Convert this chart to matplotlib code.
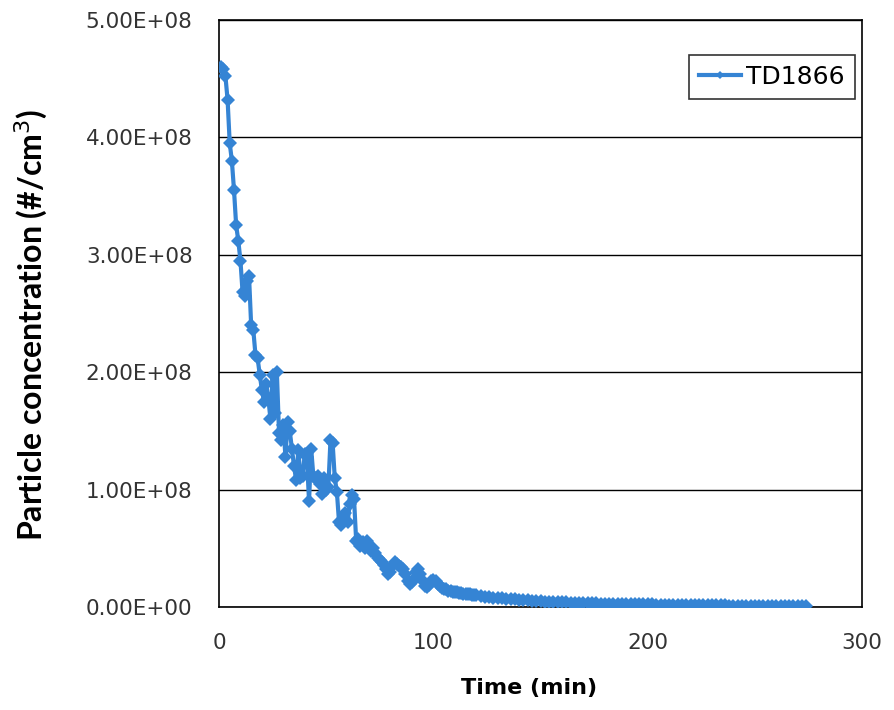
import numpy as np
import matplotlib.pyplot as plt
from matplotlib.ticker import FuncFormatter

# time (min) and particle concentration (x 1e6 #/cm3)
time_min = [
    1, 2, 3, 4, 5, 6, 7, 8, 9, 10, 11, 12, 13, 14, 15, 16, 17, 18, 19, 20,
    21, 22, 23, 24, 25, 26, 27, 28, 29, 30, 31, 32, 33, 34, 35, 36, 37, 38, 39, 40,
    41, 42, 43, 44, 45, 46, 47, 48, 49, 50, 51, 52, 53, 54, 55, 56, 57, 58, 59, 60,
    61, 62, 63, 64, 65, 66, 67, 68, 69, 70, 71, 72, 73, 74, 75, 76, 77, 78, 79, 80,
    81, 82, 83, 84, 85, 86, 87, 88, 89, 90, 91, 92, 93, 94, 95, 96, 97, 98, 99, 100,
    101, 102, 103, 104, 105, 106, 107, 108, 109, 110, 111, 112, 113, 114, 115, 116, 117, 118, 119, 120,
    122, 124, 126, 128, 130, 132, 134, 136, 138, 140, 142, 144, 146, 148, 150, 152, 154, 156, 158, 160,
    162, 164, 166, 168, 170, 172, 174, 176, 178, 180, 182, 184, 186, 188, 190, 192, 194, 196, 198, 200,
    202, 204, 206, 208, 210, 212, 214, 216, 218, 220, 222, 224, 226, 228, 230, 232, 234, 236, 238, 240,
    242, 244, 246, 248, 250, 252, 254, 256, 258, 260, 262, 264, 266, 268, 270, 272, 274,
]
conc_1e6 = [
    460, 458, 452, 432, 395, 380, 355, 325, 312, 295, 268, 265, 278, 282, 240, 236, 215, 212, 198, 185,
    175, 190, 178, 160, 198, 165, 200, 148, 142, 155, 128, 158, 150, 135, 120, 108, 134, 110, 112, 130,
    128, 90, 135, 112, 110, 112, 105, 96, 110, 100, 102, 142, 140, 110, 98, 72, 70, 75, 80, 72,
    88, 95, 92, 56, 58, 52, 55, 50, 56, 52, 48, 50, 46, 42, 40, 38, 36, 32, 28, 30,
    36, 38, 37, 35, 34, 32, 28, 22, 20, 21, 24, 30, 32, 28, 22, 18, 17, 19, 22, 23,
    22, 20, 18, 16, 15, 15, 14, 14, 13, 13, 12.5, 12, 12, 11.5, 11.5, 11, 11, 10.5, 10.5, 10,
    9.0, 8.7, 8.4, 8.0, 7.6, 7.3, 7.0, 6.8, 6.5, 6.1, 5.8, 5.6, 5.2, 5.0, 4.8, 4.7, 4.5, 4.4, 4.2, 4.1,
    3.9, 3.8, 3.7, 3.6, 3.5, 3.3, 3.2, 3.1, 3.0, 2.9, 2.9, 2.8, 2.7, 2.6, 2.6, 2.5, 2.4, 2.4, 2.3, 2.2,
    2.2, 2.1, 2.1, 2.0, 2.0, 1.9, 1.9, 1.8, 1.8, 1.7, 1.7, 1.6, 1.6, 1.5, 1.5, 1.5, 1.4, 1.4, 1.3, 1.3,
    1.3, 1.2, 1.2, 1.2, 1.1, 1.1, 1.1, 1.0, 1.0, 1.0, 0.9, 0.9, 0.9, 0.9, 0.8, 0.8, 0.8,
]
series_name = "TD1866"
conc = np.array(conc_1e6) * 1e6

fig = plt.figure(figsize=(8.95, 7.1), dpi=100)
ax = fig.add_axes([0.2447, 0.145, 0.7185, 0.827])

ax.plot(time_min, conc, color='#3584d4', lw=3, marker='D', ms=7,
        markeredgewidth=0, label=series_name, zorder=3)

ax.set_xlim(0, 300)
ax.set_ylim(0, 5e8)
ax.set_xticks([0, 100, 200, 300])
ax.set_yticks(np.arange(0, 5.01e8, 1e8))
ax.yaxis.set_major_formatter(FuncFormatter(lambda v, p: f"{v:.2E}"))
ax.tick_params(axis='y', length=0, labelsize=15.5, labelcolor='#333333', pad=19)
ax.tick_params(axis='x', length=0, labelsize=15.5, labelcolor='#333333', pad=19)
ax.grid(axis='y', color='black', lw=1)
ax.set_axisbelow(True)
for s in ax.spines.values():
    s.set_linewidth(1.2)

ax.set_xlabel("Time (min)", fontsize=16, fontweight='bold')
ax.xaxis.set_label_coords(0.482, -0.12)
ax.set_ylabel("Particle concentration (#/cm$^3$)", fontsize=23, fontweight='bold',
              family='Lato')
ax.yaxis.set_label_coords(-0.263, 0.48)

leg = ax.legend(loc='upper right', bbox_to_anchor=(0.989, 0.940), borderaxespad=0,
                fontsize=18, frameon=True, fancybox=False, edgecolor='black',
                handlelength=1.7, handletextpad=0.2, borderpad=0.4, markerscale=0.6)
leg.get_frame().set_linewidth(1.2)

fig.savefig("out.png", dpi=100)
